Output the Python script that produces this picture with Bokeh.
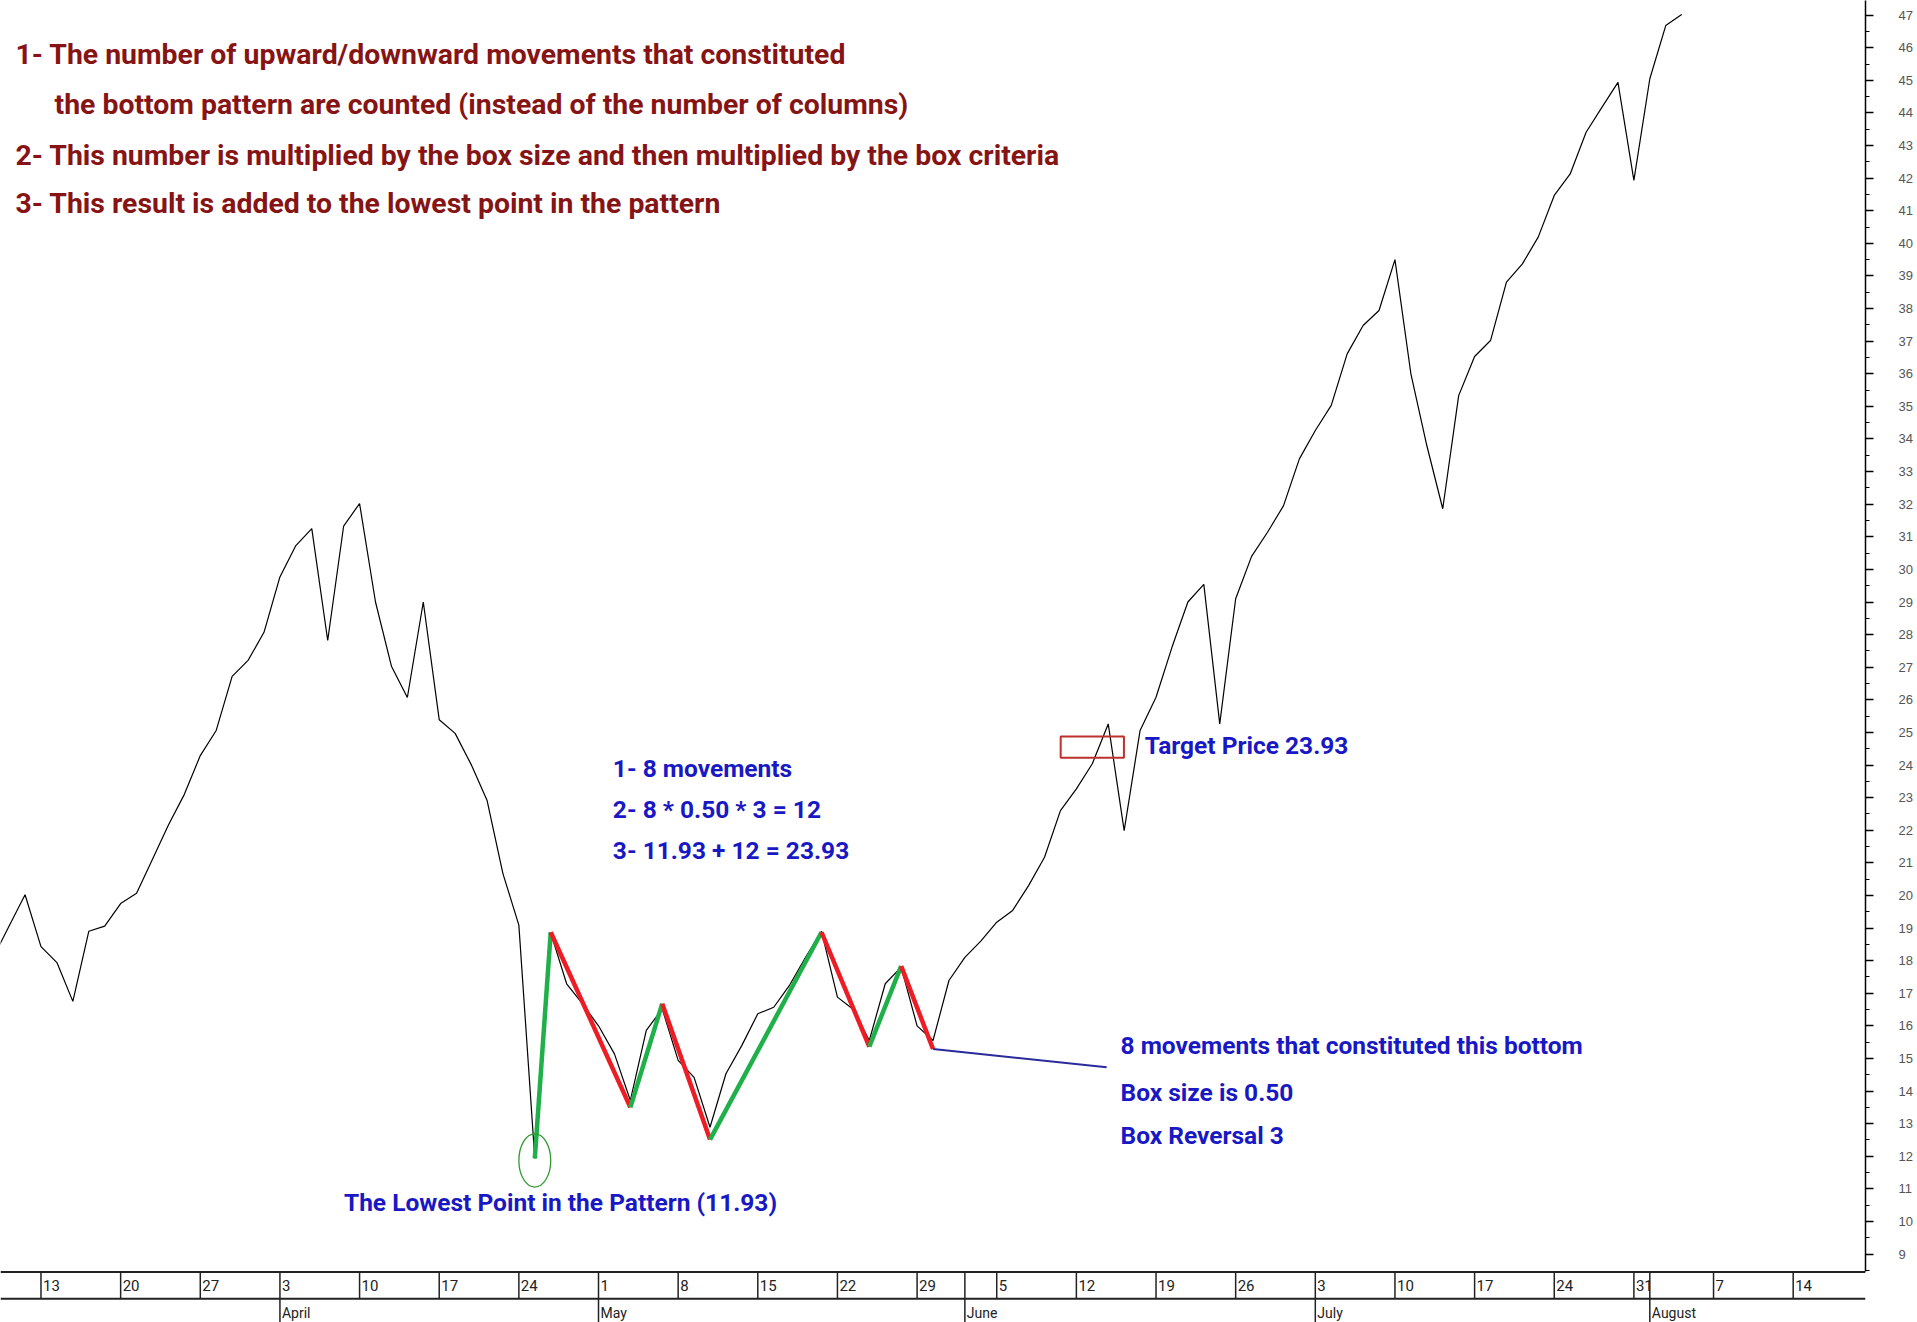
import numpy as np
from bokeh.plotting import figure
from bokeh.models import Range1d, LinearAxis, FixedTicker, Label
from bokeh.core.properties import value
from bokeh.embed import file_html
from bokeh.resources import INLINE

# ---------------- data ----------------
# trading-day index: 0 = Monday 13 March 2006 (5 trading days per week)
origin = np.datetime64("2006-03-13")
price_start = -3
price = [18.10, 19.06, 20.02, 18.43, 17.94, 16.75, 18.90, 19.06, 19.75, 20.07,
         21.11, 22.16, 23.10, 24.29, 25.06, 26.72, 27.21, 28.07, 29.77, 30.73,
         31.25, 27.82, 31.33, 32.02, 29.00, 27.03, 26.07, 29.00, 25.39, 24.97,
         24.02, 22.92, 20.67, 19.09, 11.93, 18.85, 17.29, 16.67, 16.00, 15.14,
         13.71, 15.86, 16.52, 14.94, 14.42, 12.89, 14.53, 15.40, 16.37, 16.57,
         17.25, 18.10, 18.90, 16.88, 16.50, 15.55, 17.29, 17.80, 16.00, 15.55,
         17.39, 18.10, 18.60, 19.18, 19.54, 20.30, 21.17, 22.60, 23.27, 24.04,
         25.26, 21.99, 25.06, 26.08, 27.61, 29.00, 29.54, 25.26, 29.10, 30.40,
         31.14, 31.95, 33.39, 34.26, 35.03, 36.61, 37.48, 37.94, 39.50, 36.00,
         33.80, 31.86, 35.33, 36.53, 37.02, 38.81, 39.37, 40.20, 41.47, 42.13,
         43.41, 44.18, 44.94, 41.93, 45.05, 46.68, 47.02]
days = np.arange(price_start, price_start + len(price))

# point & figure movements (pivot day index, pivot value)
move_day = [31, 32, 37, 39, 42, 49, 52, 54, 56]
move_val = [11.93, 18.87, 13.50, 16.68, 12.51, 18.87, 15.36, 17.83, 15.29]
proj_day, proj_val = 66.9, 14.73           # end of the blue projection line
low_price = 11.93
target_box = (66.0, 24.55, 3.97, 0.65)     # x, y, w, h of the red box

week_dates = ["2006-03-13", "2006-03-20", "2006-03-27", "2006-04-03", "2006-04-10",
              "2006-04-17", "2006-04-24", "2006-05-01", "2006-05-08", "2006-05-15",
              "2006-05-22", "2006-05-29", "2006-06-05", "2006-06-12", "2006-06-19",
              "2006-06-26", "2006-07-03", "2006-07-10", "2006-07-17", "2006-07-24",
              "2006-07-31", "2006-08-07", "2006-08-14"]
week_labels = ["13", "20", "27", "3", "10", "17", "24", "1", "8", "15", "22", "29",
               "5", "12", "19", "26", "3", "10", "17", "24", "31", "7", "14"]
month_dates = ["2006-04-03", "2006-05-01", "2006-06-01", "2006-07-03", "2006-08-01"]
month_labels = ["April", "May", "June", "July", "August"]
price_ticks = list(range(9, 48))

header_lines = ["1- The number of upward/downward movements that constituted",
                "the bottom pattern are counted (instead of the number of columns)",
                "2- This number is multiplied by the box size and then multiplied by the box criteria",
                "3- This result is added to the lowest point in the pattern"]
calc_lines = ["1- 8 movements", "2- 8 * 0.50 * 3 = 12", "3- 11.93 + 12 = 23.93"]
box_lines = ["8 movements that constituted this bottom", "Box size is 0.50", "Box Reversal 3"]

week_x = np.busday_count(origin, np.array(week_dates, dtype="datetime64[D]")).tolist()
month_x = np.busday_count(origin, np.array(month_dates, dtype="datetime64[D]")).tolist()

# ---------------- figure ----------------
X0, X1 = -2.542, 114.54
Y0, Y1 = 6.90, 47.45
BAND_TOP, BAND_BOT = 8.45, 7.63

p = figure(width=1917, height=1322, x_range=Range1d(X0, X1), y_range=Range1d(Y0, Y1),
           output_backend="svg", toolbar_location=None,
           x_axis_location=None, y_axis_location=None,
           min_border_left=0, min_border_top=0, min_border_bottom=0, min_border_right=52)
p.outline_line_color = None
p.grid.grid_line_color = None
p.background_fill_color = "white"
p.border_fill_color = "white"

ax = LinearAxis(ticker=FixedTicker(ticks=price_ticks,
                                   minor_ticks=[t + 0.5 for t in range(8, 48)]),
                bounds=(BAND_TOP, Y1))
ax.axis_label = None
ax.axis_line_color = "black"
ax.axis_line_width = 1.5
ax.major_tick_out = 8
ax.major_tick_in = 0
ax.minor_tick_out = 4
ax.minor_tick_in = 0
ax.major_tick_line_width = 1.5
ax.major_label_standoff = 25
ax.major_label_text_font = "Liberation Sans"
ax.major_label_text_font_size = "13px"
ax.major_label_text_color = "#555555"
p.add_layout(ax, "right")

# date band
p.segment(x0=[X0, X0], x1=[X1, X1], y0=[BAND_TOP, BAND_BOT], y1=[BAND_TOP, BAND_BOT],
          line_color="#222222", line_width=2)
band_x = sorted(set(week_x) | set(month_x))
p.segment(x0=band_x, x1=band_x, y0=BAND_BOT, y1=BAND_TOP, line_color="#222222", line_width=1.5)
p.text(x=week_x, y=(BAND_TOP + BAND_BOT) / 2, text=week_labels, x_offset=2,
       text_align="left", text_baseline="middle", text_font=value("Roboto"),
       text_font_size="15px", text_color="#222222")
p.segment(x0=month_x, x1=month_x, y0=Y0, y1=BAND_BOT, line_color="#222222", line_width=1.5)
p.text(x=month_x, y=BAND_BOT - 0.45, text=month_labels, x_offset=2,
       text_align="left", text_baseline="middle", text_font=value("Roboto"),
       text_font_size="14px", text_color="#222222")

# price line
p.line(days, price, line_color="black", line_width=1.2)

# movements
seg_col = ["#1fb04a" if b > a else "#ee1c25" for a, b in zip(move_val[:-1], move_val[1:])]
p.segment(x0=move_day[:-1], y0=move_val[:-1], x1=move_day[1:], y1=move_val[1:],
          line_color=seg_col, line_width=4.5)
p.segment(x0=[move_day[-1]], y0=[move_val[-1]], x1=[proj_day], y1=[proj_val],
          line_color="#2a2a9c", line_width=2)
p.ellipse(x=[move_day[0]], y=[low_price - 0.06], width=2.0, height=1.63,
          fill_color=None, line_color="#2e9a2e", line_width=1.3)
bx, by, bw, bh = target_box
p.rect(x=[bx], y=[by], width=bw, height=bh, fill_color=None, line_color="#c0302b", line_width=2)

# texts
RED = "#861414"
BLUE = "#1818c4"
FONT = "Roboto"

def add_label(txt, x, y, color, size):
    p.add_layout(Label(x=x, y=y, text=txt, text_color=color, text_font=FONT,
                       text_font_style="bold", text_font_size=size,
                       text_align="left", text_baseline="middle"))

for txt, (x, y) in zip(header_lines, [(-1.6, 45.79), (0.85, 44.26), (-1.6, 42.7), (-1.6, 41.22)]):
    add_label(txt, x, y, RED, "28.4px")
for txt, y in zip(calc_lines, [23.89, 22.64, 21.38]):
    add_label(txt, 35.9, y, BLUE, "24.5px")
add_label("Target Price 23.93", 69.3, 24.6, BLUE, "24.5px")
for txt, y in zip(box_lines, [15.4, 13.96, 12.65]):
    add_label(txt, 67.77, y, BLUE, "24.5px")
add_label("The Lowest Point in the Pattern (11.93)", 19.02, 10.59, BLUE, "24.5px")

open("out.html", "w").write(file_html(p, INLINE))
